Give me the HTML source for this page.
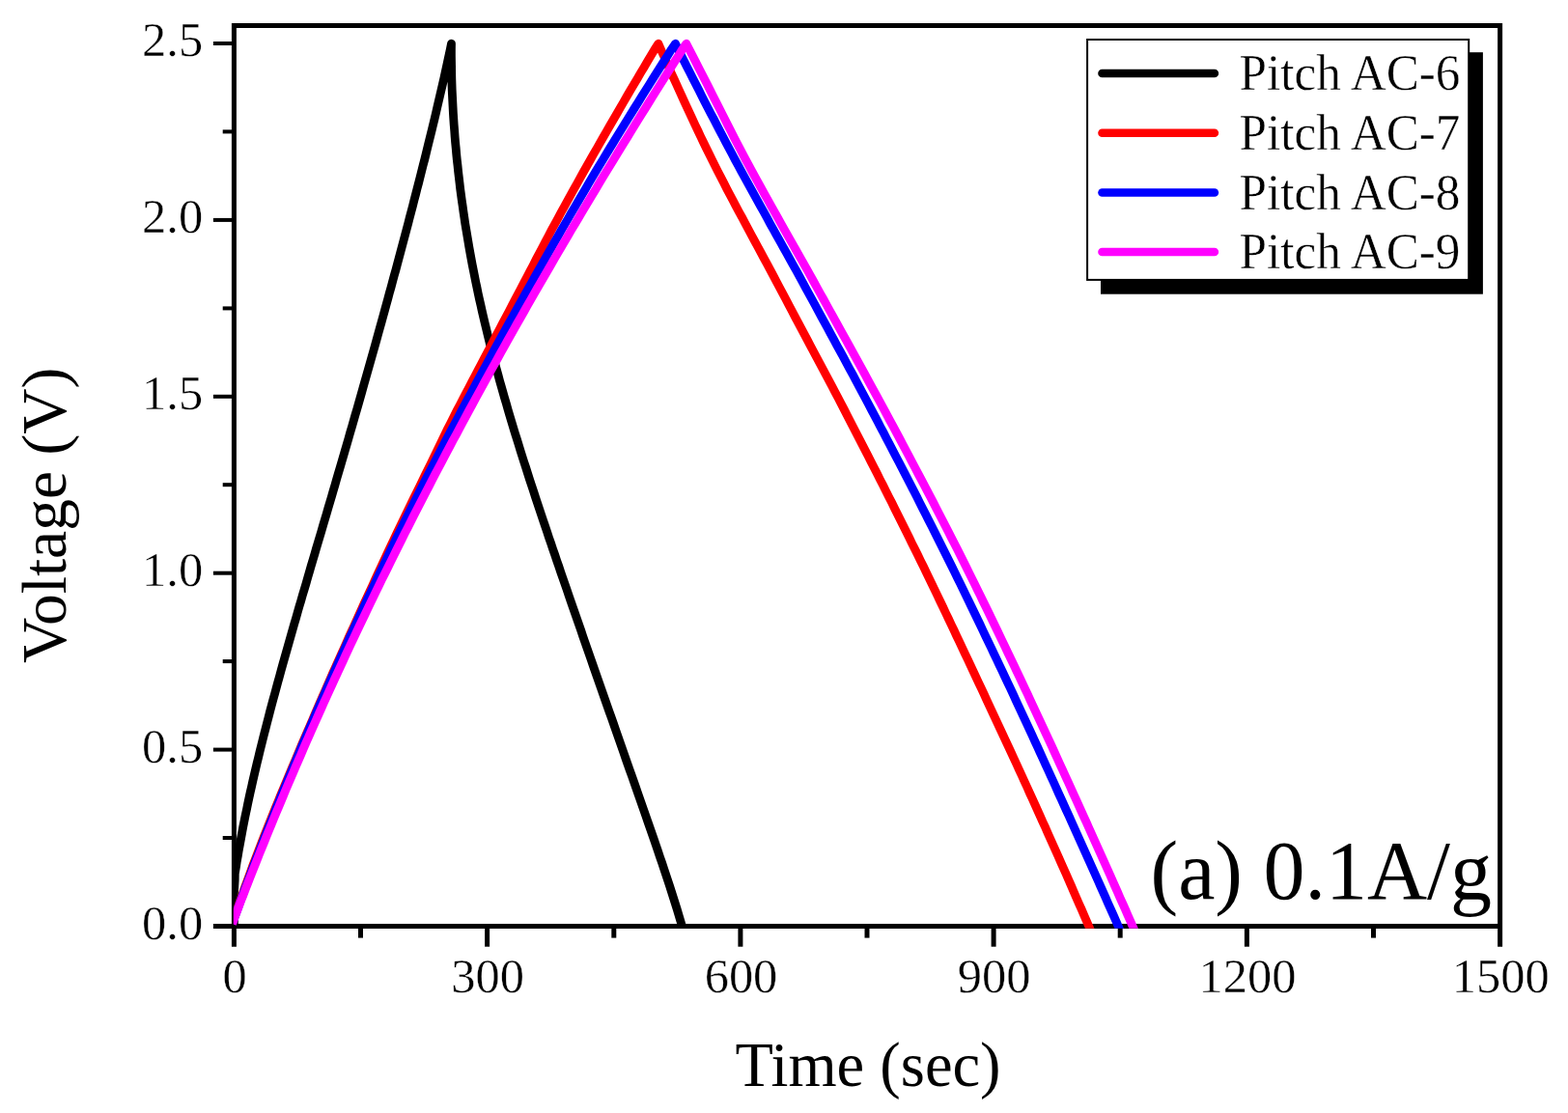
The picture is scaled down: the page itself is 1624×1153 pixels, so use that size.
<!DOCTYPE html>
<html lang="en"><head><meta charset="utf-8"><title>Galvanostatic charge-discharge (a) 0.1A/g</title>
<style>html,body{margin:0;padding:0;background:#fff;}body{width:1624px;height:1153px;overflow:hidden;}svg{display:block;}text{font-family:"Liberation Serif", "Times New Roman", serif;fill:#000;stroke:#fff;}</style>
</head><body>
<svg width="1624" height="1153" viewBox="0 0 1624 1153">
<rect x="0" y="0" width="1624" height="1153" fill="#fff"/>
<defs><clipPath id="plotclip"><rect x="241.9" y="26.5" width="1312" height="935.2"/></clipPath></defs>
<g stroke="#000" stroke-width="5.0" fill="none" stroke-linecap="butt">
<path d="M242.4 980.7 V26.5 H1553.6 V980.7" stroke-linejoin="miter"/>
<path d="M220.9 959.5 H1553.6"/>
<path d="M373.5 959.4 V971.6"/>
<path d="M504.6 959.4 V980.7"/>
<path d="M635.8 959.4 V971.6"/>
<path d="M766.9 959.4 V980.7"/>
<path d="M898.0 959.4 V971.6"/>
<path d="M1029.1 959.4 V980.7"/>
<path d="M1160.2 959.4 V971.6"/>
<path d="M1291.4 959.4 V980.7"/>
<path d="M1422.5 959.4 V971.6"/>
</g>
<g stroke="#000" stroke-width="4" fill="none" stroke-linecap="butt">
<path d="M242.4 868.0 H230.7"/>
<path d="M242.4 776.6 H220.9"/>
<path d="M242.4 685.1 H230.7"/>
<path d="M242.4 593.7 H220.9"/>
<path d="M242.4 502.2 H230.7"/>
<path d="M242.4 410.8 H220.9"/>
<path d="M242.4 319.4 H230.7"/>
<path d="M242.4 227.9 H220.9"/>
<path d="M242.4 136.4 H230.7"/>
<path d="M242.4 45.0 H220.9"/>
</g>
<g clip-path="url(#plotclip)" fill="none" stroke-width="8.8" stroke-linejoin="round" stroke-linecap="butt">
<path d="M242.4 959.4 L242.4 925.0 L243.2 912.0 L243.3 905.0 L244.3 899.0 L245.2 893.0 L246.3 887.0 L247.3 880.9 L248.4 874.9 L249.5 868.9 L250.6 862.9 L251.7 856.9 L252.9 850.9 L254.1 844.9 L255.4 838.9 L256.6 832.8 L257.9 826.8 L259.2 820.8 L260.6 814.8 L261.9 808.8 L263.3 802.8 L264.7 796.8 L266.1 790.8 L267.6 784.7 L269.0 778.7 L270.5 772.7 L272.0 766.7 L273.5 760.7 L275.1 754.7 L276.6 748.7 L278.2 742.7 L279.7 736.6 L281.3 730.6 L282.9 724.6 L284.6 718.6 L286.2 712.6 L287.8 706.6 L289.5 700.6 L291.1 694.6 L292.8 688.5 L294.5 682.5 L296.2 676.5 L297.9 670.5 L299.6 664.5 L301.3 658.5 L303.0 652.5 L304.7 646.5 L306.5 640.4 L308.2 634.4 L309.9 628.4 L311.7 622.4 L313.4 616.4 L315.2 610.4 L317.0 604.4 L318.7 598.4 L320.5 592.3 L322.2 586.3 L324.0 580.3 L325.8 574.3 L327.5 568.3 L329.3 562.3 L331.1 556.3 L332.9 550.3 L334.6 544.2 L336.4 538.2 L338.2 532.2 L339.9 526.2 L341.7 520.2 L343.5 514.2 L345.2 508.2 L347.0 502.2 L348.7 496.1 L350.5 490.1 L352.3 484.1 L354.0 478.1 L355.8 472.1 L357.5 466.1 L359.3 460.1 L361.0 454.1 L362.7 448.0 L364.5 442.0 L366.2 436.0 L367.9 430.0 L369.7 424.0 L371.4 418.0 L373.1 412.0 L374.8 406.0 L376.5 399.9 L378.2 393.9 L379.9 387.9 L381.6 381.9 L383.3 375.9 L385.0 369.9 L386.7 363.9 L388.4 357.9 L390.1 351.8 L391.7 345.8 L393.4 339.8 L395.1 333.8 L396.7 327.8 L398.4 321.8 L400.0 315.8 L401.7 309.8 L403.3 303.7 L405.0 297.7 L406.6 291.7 L408.2 285.7 L409.9 279.7 L411.5 273.7 L413.1 267.7 L414.7 261.7 L416.3 255.6 L417.9 249.6 L419.5 243.6 L421.1 237.6 L422.7 231.6 L424.2 225.6 L425.8 219.6 L427.4 213.6 L428.9 207.5 L430.5 201.5 L432.0 195.5 L433.6 189.5 L435.1 183.5 L436.6 177.5 L438.1 171.5 L439.7 165.5 L441.2 159.4 L442.6 153.4 L444.1 147.4 L445.6 141.4 L447.1 135.4 L448.5 129.4 L450.0 123.4 L451.4 117.4 L452.8 111.3 L454.2 105.3 L455.6 99.3 L457.0 93.3 L458.4 87.3 L459.8 81.3 L461.1 75.3 L462.4 69.3 L463.7 63.2 L465.0 57.2 L466.3 51.2 L467.5 45.2 L467.4 51.2 L467.4 57.2 L467.5 63.3 L467.6 69.3 L467.7 75.3 L467.8 81.3 L468.0 87.3 L468.2 93.3 L468.5 99.4 L468.8 105.4 L469.1 111.4 L469.4 117.4 L469.8 123.4 L470.2 129.5 L470.7 135.5 L471.1 141.5 L471.6 147.5 L472.2 153.5 L472.7 159.5 L473.3 165.6 L474.0 171.6 L474.6 177.6 L475.3 183.6 L476.0 189.6 L476.7 195.7 L477.5 201.7 L478.3 207.7 L479.2 213.7 L480.0 219.7 L480.9 225.7 L481.8 231.8 L482.8 237.8 L483.8 243.8 L484.8 249.8 L485.8 255.8 L486.9 261.9 L488.0 267.9 L489.1 273.9 L490.3 279.9 L491.5 285.9 L492.7 292.0 L494.0 298.0 L495.2 304.0 L496.5 310.0 L497.9 316.0 L499.2 322.0 L500.6 328.1 L502.0 334.1 L503.5 340.1 L504.9 346.1 L506.4 352.1 L507.9 358.2 L509.5 364.2 L511.0 370.2 L512.6 376.2 L514.2 382.2 L515.9 388.2 L517.5 394.3 L519.2 400.3 L520.9 406.3 L522.6 412.3 L524.4 418.3 L526.1 424.4 L527.9 430.4 L529.7 436.4 L531.5 442.4 L533.3 448.4 L535.2 454.4 L537.1 460.5 L538.9 466.5 L540.8 472.5 L542.7 478.5 L544.7 484.5 L546.6 490.6 L548.5 496.6 L550.5 502.6 L552.5 508.6 L554.4 514.6 L556.4 520.6 L558.4 526.7 L560.4 532.7 L562.4 538.7 L564.5 544.7 L566.5 550.7 L568.5 556.8 L570.6 562.8 L572.6 568.8 L574.7 574.8 L576.7 580.8 L578.8 586.8 L580.8 592.9 L582.9 598.9 L585.0 604.9 L587.1 610.9 L589.1 616.9 L591.2 623.0 L593.3 629.0 L595.4 635.0 L597.5 641.0 L599.6 647.0 L601.7 653.0 L603.7 659.1 L605.8 665.1 L607.9 671.1 L610.0 677.1 L612.1 683.1 L614.2 689.2 L616.3 695.2 L618.4 701.2 L620.5 707.2 L622.6 713.2 L624.7 719.2 L626.8 725.3 L628.9 731.3 L631.0 737.3 L633.2 743.3 L635.3 749.3 L637.4 755.4 L639.5 761.4 L641.6 767.4 L643.7 773.4 L645.8 779.4 L647.9 785.5 L650.0 791.5 L652.1 797.5 L654.3 803.5 L656.4 809.5 L658.5 815.5 L660.6 821.6 L662.7 827.6 L664.8 833.6 L666.9 839.6 L669.0 845.6 L671.1 851.7 L673.2 857.7 L675.3 863.7 L677.4 869.7 L679.4 875.7 L681.5 881.7 L683.5 887.8 L685.6 893.8 L687.6 899.8 L689.6 905.8 L691.6 911.8 L693.6 917.9 L695.5 923.9 L697.4 929.9 L699.3 935.9 L701.2 941.9 L703.0 947.9 L704.8 954.0 L706.6 960.0 L708.3 966.0" stroke="#000000"/>
<path d="M240.5 957.0 L242.5 951.0 L244.6 944.9 L246.7 938.9 L248.8 932.8 L251.0 926.8 L253.1 920.8 L255.3 914.7 L257.5 908.7 L259.7 902.7 L261.9 896.6 L264.2 890.6 L266.5 884.5 L268.8 878.5 L271.1 872.5 L273.5 866.4 L275.9 860.4 L278.3 854.3 L280.7 848.3 L283.1 842.3 L285.6 836.2 L288.1 830.2 L290.5 824.2 L293.0 818.1 L295.5 812.1 L298.1 806.0 L300.6 800.0 L303.1 794.0 L305.7 787.9 L308.2 781.9 L310.8 775.8 L313.3 769.8 L315.9 763.8 L318.5 757.7 L321.1 751.7 L323.7 745.7 L326.3 739.6 L328.9 733.6 L331.5 727.5 L334.1 721.5 L336.8 715.5 L339.4 709.4 L342.1 703.4 L344.7 697.3 L347.4 691.3 L350.1 685.3 L352.8 679.2 L355.5 673.2 L358.2 667.2 L360.9 661.1 L363.6 655.1 L366.4 649.0 L369.1 643.0 L371.8 637.0 L374.6 630.9 L377.3 624.9 L380.1 618.8 L382.9 612.8 L385.7 606.8 L388.4 600.7 L391.2 594.7 L394.0 588.7 L396.8 582.6 L399.6 576.6 L402.4 570.5 L405.3 564.5 L408.1 558.5 L411.0 552.4 L413.9 546.4 L416.8 540.3 L419.7 534.3 L422.6 528.3 L425.6 522.2 L428.5 516.2 L431.5 510.2 L434.5 504.1 L437.4 498.1 L440.4 492.0 L443.4 486.0 L446.4 480.0 L449.3 473.9 L452.2 467.9 L455.1 461.9 L458.0 455.8 L461.0 449.8 L463.9 443.7 L467.0 437.7 L470.0 431.7 L473.1 425.6 L476.3 419.6 L479.4 413.5 L482.5 407.5 L485.7 401.5 L488.9 395.4 L492.0 389.4 L495.2 383.4 L498.4 377.3 L501.5 371.3 L504.7 365.2 L507.9 359.2 L511.0 353.2 L514.2 347.1 L517.4 341.1 L520.5 335.0 L523.7 329.0 L526.9 323.0 L530.0 316.9 L533.2 310.9 L536.4 304.9 L539.6 298.8 L542.7 292.8 L545.9 286.7 L549.0 280.7 L552.2 274.7 L555.3 268.6 L558.5 262.6 L561.7 256.5 L564.8 250.5 L568.0 244.5 L571.2 238.4 L574.5 232.4 L577.8 226.4 L581.0 220.3 L584.3 214.3 L587.7 208.2 L591.0 202.2 L594.3 196.2 L597.7 190.1 L601.0 184.1 L604.4 178.0 L607.8 172.0 L611.2 166.0 L614.6 159.9 L618.1 153.9 L621.5 147.9 L625.0 141.8 L628.4 135.8 L631.9 129.7 L635.4 123.7 L638.9 117.7 L642.4 111.6 L645.9 105.6 L649.4 99.5 L652.9 93.5 L656.5 87.5 L660.1 81.4 L663.6 75.4 L667.2 69.4 L670.8 63.3 L674.4 57.3 L678.0 51.2 L681.9 45.2 L684.5 51.2 L687.2 57.2 L689.8 63.3 L692.5 69.3 L695.1 75.3 L697.9 81.3 L700.6 87.3 L703.3 93.3 L706.1 99.4 L708.8 105.4 L711.6 111.4 L714.4 117.4 L717.2 123.4 L720.0 129.5 L722.9 135.5 L725.7 141.5 L728.6 147.5 L731.5 153.5 L734.5 159.5 L737.5 165.6 L740.5 171.6 L743.5 177.6 L746.6 183.6 L749.7 189.6 L752.8 195.7 L756.0 201.7 L759.2 207.7 L762.3 213.7 L765.5 219.7 L768.8 225.7 L772.0 231.8 L775.2 237.8 L778.4 243.8 L781.7 249.8 L784.9 255.8 L788.2 261.9 L791.4 267.9 L794.7 273.9 L797.9 279.9 L801.1 285.9 L804.3 292.0 L807.5 298.0 L810.7 304.0 L813.9 310.0 L817.0 316.0 L820.2 322.0 L823.4 328.1 L826.6 334.1 L829.8 340.1 L833.0 346.1 L836.2 352.1 L839.4 358.2 L842.6 364.2 L845.8 370.2 L849.0 376.2 L852.2 382.2 L855.4 388.2 L858.6 394.3 L861.8 400.3 L864.9 406.3 L868.1 412.3 L871.2 418.3 L874.4 424.4 L877.5 430.4 L880.6 436.4 L883.7 442.4 L886.8 448.4 L889.9 454.4 L893.0 460.5 L896.1 466.5 L899.2 472.5 L902.2 478.5 L905.3 484.5 L908.4 490.6 L911.4 496.6 L914.5 502.6 L917.5 508.6 L920.5 514.6 L923.6 520.6 L926.6 526.7 L929.6 532.7 L932.6 538.7 L935.6 544.7 L938.6 550.7 L941.6 556.8 L944.5 562.8 L947.5 568.8 L950.5 574.8 L953.4 580.8 L956.4 586.8 L959.3 592.9 L962.2 598.9 L965.1 604.9 L968.0 610.9 L970.9 616.9 L973.8 623.0 L976.7 629.0 L979.5 635.0 L982.4 641.0 L985.2 647.0 L988.1 653.0 L990.9 659.1 L993.8 665.1 L996.6 671.1 L999.4 677.1 L1002.3 683.1 L1005.1 689.2 L1007.9 695.2 L1010.7 701.2 L1013.5 707.2 L1016.4 713.2 L1019.2 719.2 L1022.0 725.3 L1024.8 731.3 L1027.6 737.3 L1030.4 743.3 L1033.2 749.3 L1036.0 755.4 L1038.8 761.4 L1041.6 767.4 L1044.4 773.4 L1047.2 779.4 L1050.0 785.5 L1052.8 791.5 L1055.5 797.5 L1058.3 803.5 L1061.0 809.5 L1063.8 815.5 L1066.5 821.6 L1069.3 827.6 L1072.0 833.6 L1074.7 839.6 L1077.4 845.6 L1080.1 851.7 L1082.9 857.7 L1085.5 863.7 L1088.2 869.7 L1090.9 875.7 L1093.6 881.7 L1096.3 887.8 L1098.9 893.8 L1101.6 899.8 L1104.3 905.8 L1106.9 911.8 L1109.6 917.9 L1112.2 923.9 L1114.8 929.9 L1117.4 935.9 L1120.1 941.9 L1122.7 947.9 L1125.3 954.0 L1127.9 960.0 L1130.5 966.0" stroke="#ff0000"/>
<path d="M240.5 957.0 L242.7 951.0 L244.9 944.9 L247.1 938.9 L249.3 932.8 L251.5 926.8 L253.7 920.8 L256.0 914.7 L258.3 908.7 L260.5 902.7 L262.8 896.6 L265.1 890.6 L267.5 884.5 L269.8 878.5 L272.1 872.5 L274.5 866.4 L276.9 860.4 L279.3 854.3 L281.7 848.3 L284.1 842.3 L286.5 836.2 L289.0 830.2 L291.4 824.2 L293.9 818.1 L296.4 812.1 L298.9 806.0 L301.4 800.0 L303.9 794.0 L306.4 787.9 L308.9 781.9 L311.5 775.8 L314.0 769.8 L316.6 763.8 L319.2 757.7 L321.8 751.7 L324.4 745.7 L327.0 739.6 L329.6 733.6 L332.2 727.5 L334.9 721.5 L337.5 715.5 L340.2 709.4 L342.9 703.4 L345.6 697.3 L348.3 691.3 L351.0 685.3 L353.7 679.2 L356.4 673.2 L359.2 667.2 L361.9 661.1 L364.7 655.1 L367.4 649.0 L370.2 643.0 L373.0 637.0 L375.8 630.9 L378.6 624.9 L381.4 618.8 L384.3 612.8 L387.1 606.8 L390.0 600.7 L392.8 594.7 L395.7 588.7 L398.6 582.6 L401.5 576.6 L404.4 570.5 L407.3 564.5 L410.2 558.5 L413.2 552.4 L416.1 546.4 L419.1 540.3 L422.1 534.3 L425.1 528.3 L428.1 522.2 L431.1 516.2 L434.1 510.2 L437.1 504.1 L440.2 498.1 L443.3 492.0 L446.4 486.0 L449.5 480.0 L452.6 473.9 L455.7 467.9 L458.9 461.9 L462.0 455.8 L465.2 449.8 L468.4 443.7 L471.6 437.7 L474.8 431.7 L478.0 425.6 L481.2 419.6 L484.4 413.5 L487.7 407.5 L490.9 401.5 L494.2 395.4 L497.4 389.4 L500.7 383.4 L504.0 377.3 L507.2 371.3 L510.5 365.2 L513.8 359.2 L517.1 353.2 L520.4 347.1 L523.7 341.1 L527.1 335.0 L530.4 329.0 L533.7 323.0 L537.1 316.9 L540.5 310.9 L543.8 304.9 L547.2 298.8 L550.6 292.8 L554.0 286.7 L557.4 280.7 L560.8 274.7 L564.2 268.6 L567.6 262.6 L571.1 256.5 L574.5 250.5 L578.0 244.5 L581.4 238.4 L584.9 232.4 L588.4 226.4 L591.9 220.3 L595.5 214.3 L599.0 208.2 L602.5 202.2 L606.1 196.2 L609.6 190.1 L613.2 184.1 L616.8 178.0 L620.4 172.0 L624.1 166.0 L627.7 159.9 L631.4 153.9 L635.1 147.9 L638.8 141.8 L642.5 135.8 L646.2 129.7 L649.9 123.7 L653.7 117.7 L657.4 111.6 L661.2 105.6 L664.9 99.5 L668.7 93.5 L672.5 87.5 L676.3 81.4 L680.1 75.4 L683.9 69.4 L687.7 63.3 L691.6 57.3 L695.4 51.2 L699.5 45.2 L702.5 51.2 L705.5 57.2 L708.5 63.3 L711.5 69.3 L714.6 75.3 L717.6 81.3 L720.7 87.3 L723.8 93.3 L726.8 99.4 L729.9 105.4 L733.0 111.4 L736.1 117.4 L739.3 123.4 L742.4 129.5 L745.5 135.5 L748.7 141.5 L751.8 147.5 L755.0 153.5 L758.2 159.5 L761.4 165.6 L764.7 171.6 L767.9 177.6 L771.2 183.6 L774.5 189.6 L777.8 195.7 L781.1 201.7 L784.4 207.7 L787.7 213.7 L791.1 219.7 L794.4 225.7 L797.7 231.8 L801.1 237.8 L804.4 243.8 L807.8 249.8 L811.1 255.8 L814.5 261.9 L817.8 267.9 L821.1 273.9 L824.5 279.9 L827.8 285.9 L831.1 292.0 L834.3 298.0 L837.6 304.0 L840.9 310.0 L844.2 316.0 L847.4 322.0 L850.7 328.1 L854.0 334.1 L857.3 340.1 L860.5 346.1 L863.8 352.1 L867.0 358.2 L870.3 364.2 L873.6 370.2 L876.8 376.2 L880.0 382.2 L883.3 388.2 L886.5 394.3 L889.7 400.3 L892.9 406.3 L896.1 412.3 L899.3 418.3 L902.5 424.4 L905.7 430.4 L908.9 436.4 L912.0 442.4 L915.2 448.4 L918.3 454.4 L921.5 460.5 L924.6 466.5 L927.7 472.5 L930.9 478.5 L934.0 484.5 L937.1 490.6 L940.2 496.6 L943.3 502.6 L946.4 508.6 L949.5 514.6 L952.5 520.6 L955.6 526.7 L958.7 532.7 L961.7 538.7 L964.8 544.7 L967.8 550.7 L970.8 556.8 L973.8 562.8 L976.8 568.8 L979.8 574.8 L982.8 580.8 L985.8 586.8 L988.8 592.9 L991.7 598.9 L994.7 604.9 L997.6 610.9 L1000.5 616.9 L1003.5 623.0 L1006.4 629.0 L1009.3 635.0 L1012.2 641.0 L1015.1 647.0 L1017.9 653.0 L1020.8 659.1 L1023.7 665.1 L1026.6 671.1 L1029.4 677.1 L1032.3 683.1 L1035.1 689.2 L1038.0 695.2 L1040.8 701.2 L1043.6 707.2 L1046.5 713.2 L1049.3 719.2 L1052.1 725.3 L1054.9 731.3 L1057.7 737.3 L1060.5 743.3 L1063.3 749.3 L1066.1 755.4 L1068.9 761.4 L1071.6 767.4 L1074.4 773.4 L1077.1 779.4 L1079.9 785.5 L1082.6 791.5 L1085.4 797.5 L1088.1 803.5 L1090.9 809.5 L1093.6 815.5 L1096.3 821.6 L1099.1 827.6 L1101.8 833.6 L1104.5 839.6 L1107.3 845.6 L1110.0 851.7 L1112.7 857.7 L1115.4 863.7 L1118.1 869.7 L1120.8 875.7 L1123.5 881.7 L1126.2 887.8 L1128.9 893.8 L1131.6 899.8 L1134.3 905.8 L1137.0 911.8 L1139.7 917.9 L1142.4 923.9 L1145.1 929.9 L1147.7 935.9 L1150.4 941.9 L1153.1 947.9 L1155.8 954.0 L1158.4 960.0 L1161.1 966.0" stroke="#0000ff"/>
<path d="M240.5 957.0 L242.8 951.0 L245.1 944.9 L247.4 938.9 L249.7 932.8 L252.1 926.8 L254.4 920.8 L256.8 914.7 L259.1 908.7 L261.5 902.7 L263.9 896.6 L266.3 890.6 L268.7 884.5 L271.1 878.5 L273.6 872.5 L276.0 866.4 L278.5 860.4 L281.0 854.3 L283.4 848.3 L285.9 842.3 L288.5 836.2 L291.0 830.2 L293.5 824.2 L296.0 818.1 L298.6 812.1 L301.2 806.0 L303.8 800.0 L306.3 794.0 L309.0 787.9 L311.6 781.9 L314.2 775.8 L316.8 769.8 L319.5 763.8 L322.1 757.7 L324.8 751.7 L327.5 745.7 L330.2 739.6 L332.9 733.6 L335.6 727.5 L338.4 721.5 L341.1 715.5 L343.9 709.4 L346.6 703.4 L349.4 697.3 L352.2 691.3 L355.0 685.3 L357.8 679.2 L360.6 673.2 L363.4 667.2 L366.3 661.1 L369.1 655.1 L372.0 649.0 L374.9 643.0 L377.8 637.0 L380.7 630.9 L383.6 624.9 L386.5 618.8 L389.4 612.8 L392.4 606.8 L395.3 600.7 L398.3 594.7 L401.3 588.7 L404.3 582.6 L407.3 576.6 L410.3 570.5 L413.3 564.5 L416.3 558.5 L419.3 552.4 L422.4 546.4 L425.5 540.3 L428.5 534.3 L431.6 528.3 L434.7 522.2 L437.8 516.2 L440.9 510.2 L444.1 504.1 L447.2 498.1 L450.3 492.0 L453.5 486.0 L456.7 480.0 L459.8 473.9 L463.0 467.9 L466.2 461.9 L469.4 455.8 L472.7 449.8 L475.9 443.7 L479.1 437.7 L482.4 431.7 L485.6 425.6 L488.9 419.6 L492.2 413.5 L495.5 407.5 L498.8 401.5 L502.1 395.4 L505.4 389.4 L508.7 383.4 L512.1 377.3 L515.4 371.3 L518.8 365.2 L522.2 359.2 L525.5 353.2 L528.9 347.1 L532.3 341.1 L535.7 335.0 L539.2 329.0 L542.6 323.0 L546.0 316.9 L549.5 310.9 L552.9 304.9 L556.4 298.8 L559.9 292.8 L563.4 286.7 L566.9 280.7 L570.4 274.7 L573.9 268.6 L577.4 262.6 L581.0 256.5 L584.5 250.5 L588.1 244.5 L591.6 238.4 L595.2 232.4 L598.8 226.4 L602.4 220.3 L606.0 214.3 L609.6 208.2 L613.2 202.2 L616.9 196.2 L620.5 190.1 L624.1 184.1 L627.8 178.0 L631.5 172.0 L635.2 166.0 L638.8 159.9 L642.5 153.9 L646.2 147.9 L650.0 141.8 L653.7 135.8 L657.4 129.7 L661.1 123.7 L664.9 117.7 L668.7 111.6 L672.4 105.6 L676.2 99.5 L680.0 93.5 L683.8 87.5 L687.6 81.4 L691.4 75.4 L695.2 69.4 L699.0 63.3 L702.9 57.3 L706.7 51.2 L710.8 45.2 L713.9 51.2 L717.0 57.2 L720.1 63.3 L723.1 69.3 L726.2 75.3 L729.3 81.3 L732.4 87.3 L735.4 93.3 L738.5 99.4 L741.6 105.4 L744.6 111.4 L747.6 117.4 L750.7 123.4 L753.7 129.5 L756.8 135.5 L759.8 141.5 L762.9 147.5 L766.1 153.5 L769.2 159.5 L772.4 165.6 L775.7 171.6 L778.9 177.6 L782.2 183.6 L785.5 189.6 L788.8 195.7 L792.1 201.7 L795.5 207.7 L798.8 213.7 L802.2 219.7 L805.6 225.7 L809.0 231.8 L812.4 237.8 L815.8 243.8 L819.2 249.8 L822.6 255.8 L826.0 261.9 L829.4 267.9 L832.8 273.9 L836.2 279.9 L839.5 285.9 L842.9 292.0 L846.2 298.0 L849.5 304.0 L852.9 310.0 L856.2 316.0 L859.5 322.0 L862.9 328.1 L866.2 334.1 L869.5 340.1 L872.8 346.1 L876.2 352.1 L879.5 358.2 L882.8 364.2 L886.1 370.2 L889.4 376.2 L892.7 382.2 L896.0 388.2 L899.3 394.3 L902.6 400.3 L905.9 406.3 L909.2 412.3 L912.4 418.3 L915.7 424.4 L918.9 430.4 L922.1 436.4 L925.4 442.4 L928.6 448.4 L931.8 454.4 L935.0 460.5 L938.2 466.5 L941.4 472.5 L944.5 478.5 L947.7 484.5 L950.9 490.6 L954.1 496.6 L957.2 502.6 L960.4 508.6 L963.5 514.6 L966.7 520.6 L969.8 526.7 L972.9 532.7 L976.0 538.7 L979.1 544.7 L982.2 550.7 L985.2 556.8 L988.3 562.8 L991.4 568.8 L994.4 574.8 L997.4 580.8 L1000.4 586.8 L1003.4 592.9 L1006.4 598.9 L1009.4 604.9 L1012.3 610.9 L1015.3 616.9 L1018.2 623.0 L1021.2 629.0 L1024.1 635.0 L1027.0 641.0 L1029.9 647.0 L1032.8 653.0 L1035.7 659.1 L1038.6 665.1 L1041.5 671.1 L1044.3 677.1 L1047.2 683.1 L1050.1 689.2 L1052.9 695.2 L1055.8 701.2 L1058.6 707.2 L1061.4 713.2 L1064.3 719.2 L1067.1 725.3 L1069.9 731.3 L1072.7 737.3 L1075.5 743.3 L1078.3 749.3 L1081.1 755.4 L1083.9 761.4 L1086.7 767.4 L1089.5 773.4 L1092.2 779.4 L1095.0 785.5 L1097.7 791.5 L1100.5 797.5 L1103.2 803.5 L1106.0 809.5 L1108.7 815.5 L1111.4 821.6 L1114.2 827.6 L1116.9 833.6 L1119.6 839.6 L1122.3 845.6 L1125.1 851.7 L1127.8 857.7 L1130.5 863.7 L1133.2 869.7 L1135.9 875.7 L1138.6 881.7 L1141.3 887.8 L1144.0 893.8 L1146.7 899.8 L1149.4 905.8 L1152.0 911.8 L1154.7 917.9 L1157.4 923.9 L1160.0 929.9 L1162.7 935.9 L1165.4 941.9 L1168.0 947.9 L1170.7 954.0 L1173.3 960.0 L1176.0 966.0" stroke="#ff00ff"/>
</g>
<text transform="translate(210.2 972.7) scale(1 1.015)" font-size="50.5" text-anchor="end" stroke-width="0.4">0.0</text>
<text transform="translate(210.2 789.8) scale(1 1.015)" font-size="50.5" text-anchor="end" stroke-width="0.4">0.5</text>
<text transform="translate(210.2 606.9) scale(1 1.015)" font-size="50.5" text-anchor="end" stroke-width="0.4">1.0</text>
<text transform="translate(210.2 424.0) scale(1 1.015)" font-size="50.5" text-anchor="end" stroke-width="0.4">1.5</text>
<text transform="translate(210.2 241.1) scale(1 1.015)" font-size="50.5" text-anchor="end" stroke-width="0.4">2.0</text>
<text transform="translate(210.2 58.2) scale(1 1.015)" font-size="50.5" text-anchor="end" stroke-width="0.4">2.5</text>
<text transform="translate(243.0 1027.6) scale(1 1.015)" font-size="50.5" text-anchor="middle" stroke-width="0.4">0</text>
<text transform="translate(505.2 1027.6) scale(1 1.015)" font-size="50.5" text-anchor="middle" stroke-width="0.4">300</text>
<text transform="translate(767.5 1027.6) scale(1 1.015)" font-size="50.5" text-anchor="middle" stroke-width="0.4">600</text>
<text transform="translate(1029.7 1027.6) scale(1 1.015)" font-size="50.5" text-anchor="middle" stroke-width="0.4">900</text>
<text transform="translate(1292.0 1027.6) scale(1 1.015)" font-size="50.5" text-anchor="middle" stroke-width="0.4">1200</text>
<text transform="translate(1554.2 1027.6) scale(1 1.015)" font-size="50.5" text-anchor="middle" stroke-width="0.4">1500</text>
<text transform="translate(899.0 1125.2) scale(1 1.02)" font-size="64.5" text-anchor="middle" stroke-width="0">Time (sec)</text>
<text transform="translate(67.8 533.8) rotate(-90)" font-size="65.5" text-anchor="middle" stroke-width="0">Voltage (V)</text>
<text transform="translate(1545.0 931.2)" font-size="86.0" text-anchor="end" stroke-width="0">(a) 0.1A/g</text>
<rect x="1140.0" y="54.2" width="395.9" height="250.5" fill="#000"/>
<rect x="1126.1" y="41.0" width="395.1" height="248.9" fill="#fff" stroke="#000" stroke-width="2"/>
<path d="M1141.5 76.0 H1257.9" stroke="#000000" stroke-width="8.6" stroke-linecap="round" fill="none"/>
<text transform="translate(1283.5 93.1) scale(1 1.015)" font-size="51.2" text-anchor="start" stroke-width="0.4">Pitch AC-6</text>
<path d="M1141.5 137.7 H1257.9" stroke="#ff0000" stroke-width="8.6" stroke-linecap="round" fill="none"/>
<text transform="translate(1283.5 154.8) scale(1 1.015)" font-size="51.2" text-anchor="start" stroke-width="0.4">Pitch AC-7</text>
<path d="M1141.5 199.5 H1257.9" stroke="#0000ff" stroke-width="8.6" stroke-linecap="round" fill="none"/>
<text transform="translate(1283.5 216.6) scale(1 1.015)" font-size="51.2" text-anchor="start" stroke-width="0.4">Pitch AC-8</text>
<path d="M1141.5 261.0 H1257.9" stroke="#ff00ff" stroke-width="8.6" stroke-linecap="round" fill="none"/>
<text transform="translate(1283.5 278.1) scale(1 1.015)" font-size="51.2" text-anchor="start" stroke-width="0.4">Pitch AC-9</text>
</svg>
</body></html>
